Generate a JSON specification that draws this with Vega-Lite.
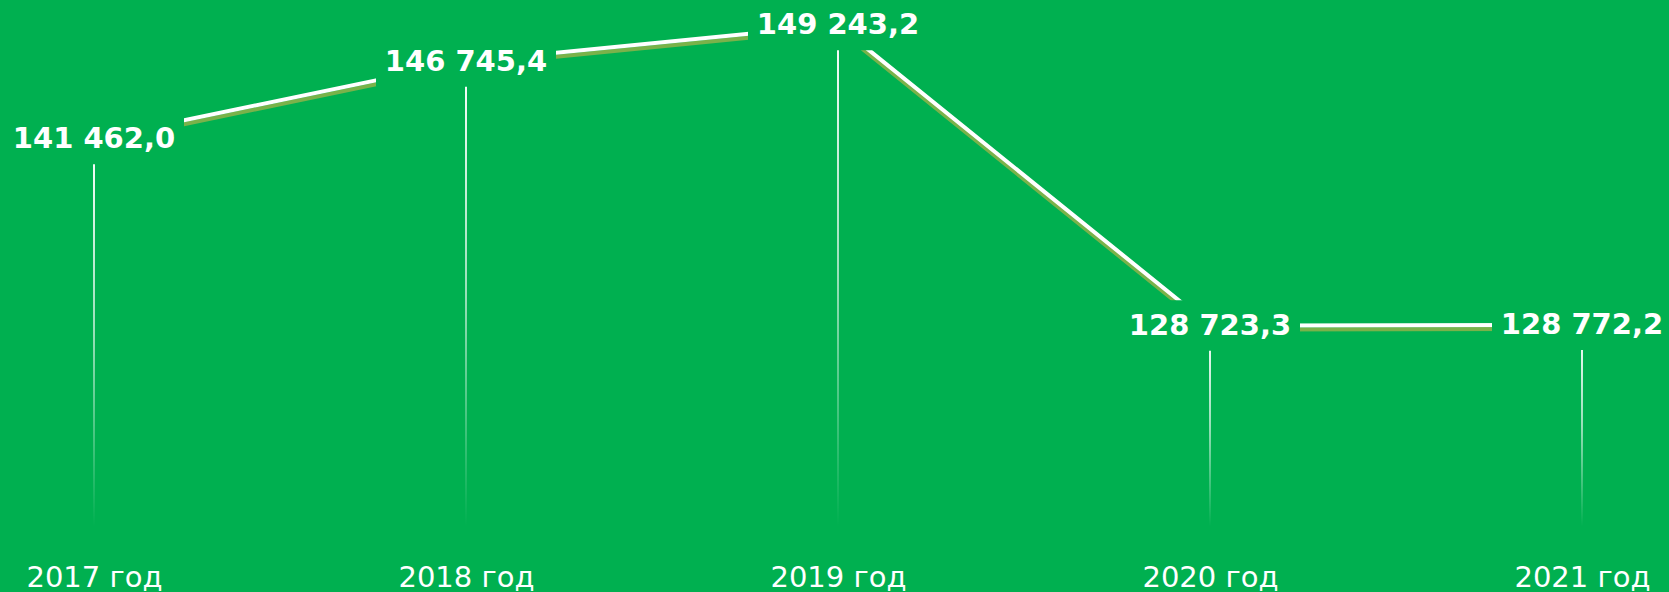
{
  "$schema": "https://vega.github.io/schema/vega-lite/v6.json",
  "width": 1669,
  "height": 592,
  "padding": 0,
  "autosize": {"type": "none"},
  "background": "#00B050",
  "config": {"view": {"stroke": null}},
  "data": {"values": [
    {"year": "2017 год", "value": 141462.0, "label": "141 462,0", "base": 115000},
    {"year": "2018 год", "value": 146745.4, "label": "146 745,4", "base": 115000},
    {"year": "2019 год", "value": 149243.2, "label": "149 243,2", "base": 115000},
    {"year": "2020 год", "value": 128723.3, "label": "128 723,3", "base": 115000},
    {"year": "2021 год", "value": 128772.2, "label": "128 772,2", "base": 115000}
  ]},
  "encoding": {
    "x": {"field": "year", "type": "ordinal", "sort": null,
      "scale": {"type": "point", "range": [94, 1582], "padding": 0},
      "axis": {"orient": "bottom", "domain": false, "ticks": false, "title": null, "labelAngle": 0,
        "labelColor": "white", "labelFont": "DejaVu Sans", "labelFontSize": 29, "labelFontWeight": "normal",
        "labelPadding": -15, "labelBaseline": "middle", "grid": false}},
    "y": {"field": "value", "type": "quantitative",
      "scale": {"domain": [110520, 150957], "zero": false, "nice": false},
      "axis": null}
  },
  "layer": [
    {
      "mark": {"type": "bar", "width": 2,
        "fill": {"gradient": "linear", "x1": 0, "y1": 0, "x2": 0, "y2": 1,
          "stops": [{"offset": 0, "color": "rgba(255,255,255,1)"}, {"offset": 0.5, "color": "rgba(255,255,255,0.6)"}, {"offset": 1, "color": "rgba(255,255,255,0)"}]}},
      "encoding": {"y2": {"field": "base"}}
    },
    {
      "mark": {"type": "line", "stroke": "#7AB24A", "strokeWidth": 4, "yOffset": 4},
      "encoding": {}
    },
    {
      "mark": {"type": "line", "stroke": "white", "strokeWidth": 4},
      "encoding": {}
    },
    {
      "mark": {"type": "point", "shape": "M-1,-0.28H1V0.28H-1Z", "size": 32400, "filled": true, "fill": "#00B050", "opacity": 1, "strokeWidth": 0},
      "encoding": {}
    },
    {
      "mark": {"type": "text", "font": "DejaVu Sans", "fontSize": 29, "fontWeight": "bold", "fill": "white", "baseline": "middle", "align": "center"},
      "encoding": {"text": {"field": "label"}}
    }
  ]
}
